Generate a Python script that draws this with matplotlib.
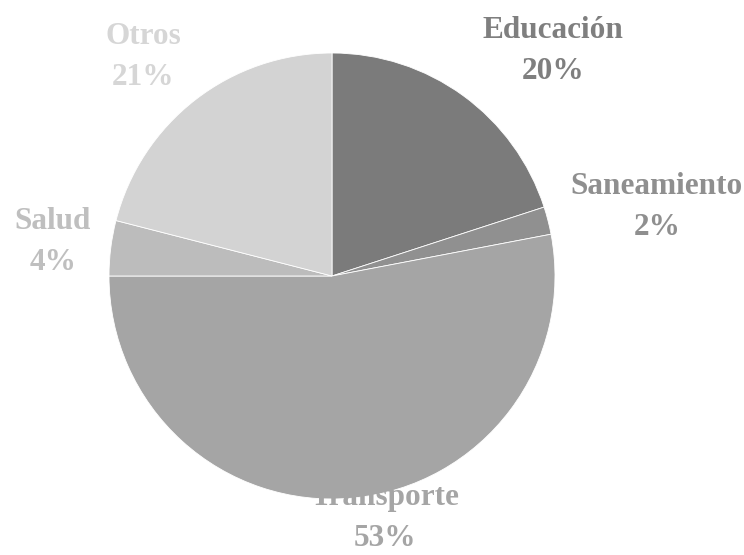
import matplotlib
matplotlib.use("Agg")
from matplotlib import pyplot as plt

categorias = ["Educación", "Saneamiento", "Transporte", "Salud", "Otros"]
valores = [20, 2, 53, 4, 21]
colores = ["#7b7b7b", "#909090", "#a5a5a5", "#bcbcbc", "#d3d3d3"]
colores_texto = ["#7f7f7f", "#8f8f8f", "#a5a5a5", "#bfbfbf", "#d6d6d6"]
# label block centres, in pie-radius units
pos_etiquetas = [(0.99, 1.01), (1.457, 0.309), (0.238, -1.085), (-1.251, 0.152), (-0.848, 0.982)]

plt.rcParams['font.family'] = ['Liberation Serif', 'DejaVu Serif']

fig = plt.figure(figsize=(7.44, 5.55), dpi=100)
ax = fig.add_axes([109/744, 56/555, 446/744, 446/555])
ax.pie(valores, colors=colores, startangle=90, counterclock=False, radius=1,
       wedgeprops=dict(edgecolor="white", linewidth=0.6))
ax.set_xlim(-1, 1)
ax.set_ylim(-1, 1)
ax.set_aspect("equal")
ax.axis("off")

for cat, v, c, (x, y) in zip(categorias, valores, colores_texto, pos_etiquetas):
    ax.text(x, y, f"{cat}\n{v}%", ha="center", va="center", color=c,
            fontsize=22.5, fontweight="bold", linespacing=1.55, clip_on=False)

fig.savefig("out.png", dpi=100)
